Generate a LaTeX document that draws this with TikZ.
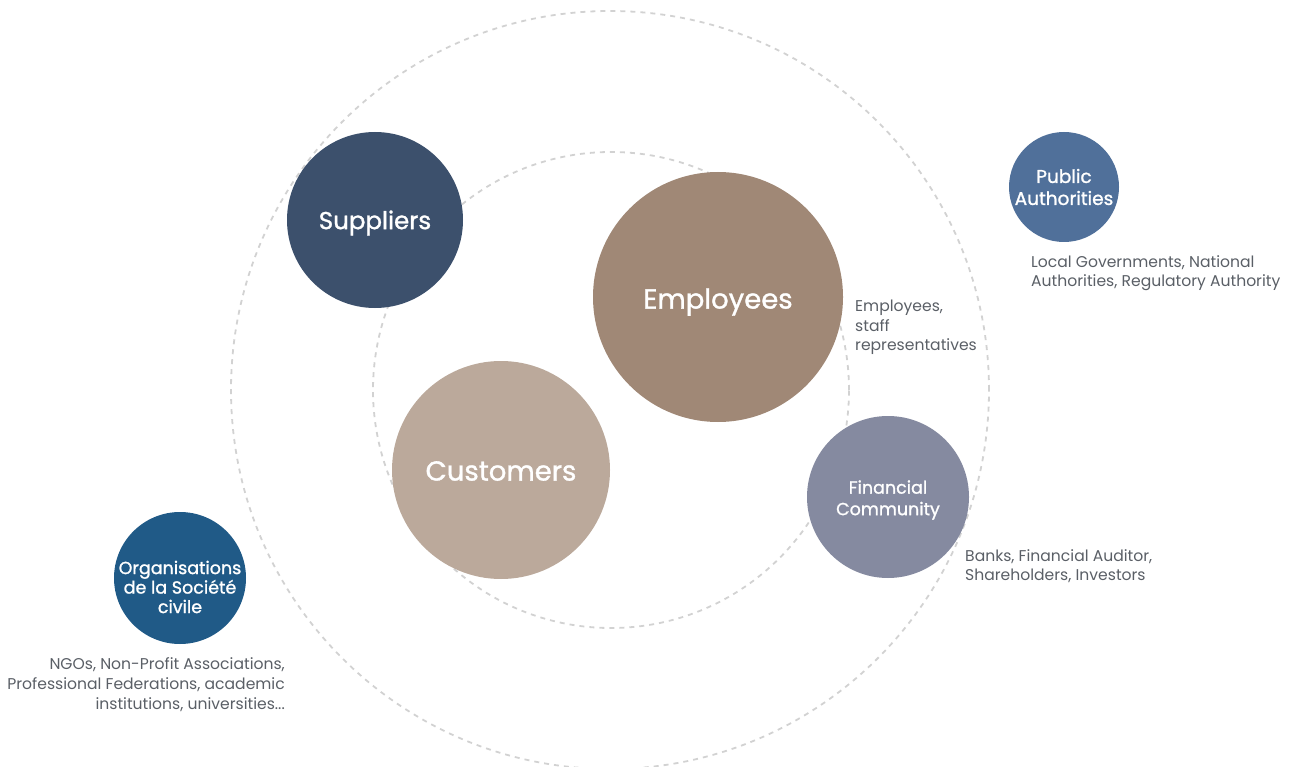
\documentclass[tikz,border=0pt]{standalone}
\usepackage{fontspec}
\setmainfont{Poppins}
\newfontfamily\partyfont[FakeBold=1.2]{Poppins}
\usetikzlibrary{positioning}
\definecolor{ringgray}{HTML}{D2D2D2}
\definecolor{textgray}{HTML}{5A5F66}
\definecolor{supcol}{HTML}{3C506C}
\definecolor{empcol}{HTML}{A08876}
\definecolor{cuscol}{HTML}{BBA99B}
\definecolor{fincol}{HTML}{858AA0}
\definecolor{pubcol}{HTML}{50709A}
\definecolor{orgcol}{HTML}{205A87}
\tikzset{
  ring/.style={draw=ringgray, line width=1.8pt, dash pattern=on 5pt off 5pt},
  party/.style={circle, draw=none, inner sep=0pt},
  biglabel/.style={text=white, align=center, inner sep=0pt, font=\partyfont\fontsize{27.5}{30}\selectfont},
  smalllabel/.style={text=white, align=center, inner sep=0pt, font=\partyfont\fontsize{17.5}{21.5}\selectfont},
  note/.style={text=textgray, font=\fontsize{15.6}{19.4}\selectfont, inner sep=0pt}
}
\begin{document}
\begin{tikzpicture}[x=1pt,y=-1pt]
\useasboundingbox (0,0) rectangle (1306,767);
% rings
\draw [ring] (610,390) circle (379pt);
\draw [ring] (611,390) circle (238pt);
% stakeholders
\node [party, fill=supcol, minimum size=176pt] (sup) at (375,220) {};
\node [party, fill=empcol, minimum size=250pt] (emp) at (718,297) {};
\node [party, fill=cuscol, minimum size=218pt] (cus) at (501,470) {};
\node [party, fill=fincol, minimum size=162pt] (fin) at (888,497) {};
\node [party, fill=pubcol, minimum size=110pt] (pub) at (1064,187) {};
\node [party, fill=orgcol, minimum size=132pt] (org) at (180,578) {};
% names
\node [biglabel, font=\partyfont\fontsize{24.5}{27}\selectfont] (supname) at ([yshift=-3pt]sup.center) {Suppliers};
\node [biglabel] (empname) at ([yshift=-5pt]emp.center) {Employees};
\node [biglabel] (cusname) at ([yshift=-1pt]cus.center) {Customers};
\node [smalllabel] (finname) at ([yshift=-3pt]fin.center) {Financial\\Community};
\node [smalllabel, font=\partyfont\fontsize{18.5}{22}\selectfont] (pubname) at (pub.center) {Public\\Authorities};
\node [smalllabel, font=\partyfont\fontsize{17.5}{19.5}\selectfont] (orgname) at ([yshift=-9pt]org.center) {Organisations\\de la Société\\civile};
% notes
\node [note, anchor=north west, align=left] (empnote) at (855,300) {Employees,\\staff\\representatives};
\node [note, anchor=north west, align=left] (pubnote) at (1031,255) {Local Governments, National\\Authorities, Regulatory Authority};
\node [note, anchor=north west, align=left] (finnote) at (965,549) {Banks, Financial Auditor,\\Shareholders, Investors};
\node [note, anchor=north east, align=right, font=\fontsize{15.6}{20}\selectfont] (orgnote) at (285,657) {NGOs, Non-Profit Associations,\\Professional Federations, academic\\institutions, universities...};
\end{tikzpicture}
\end{document}
